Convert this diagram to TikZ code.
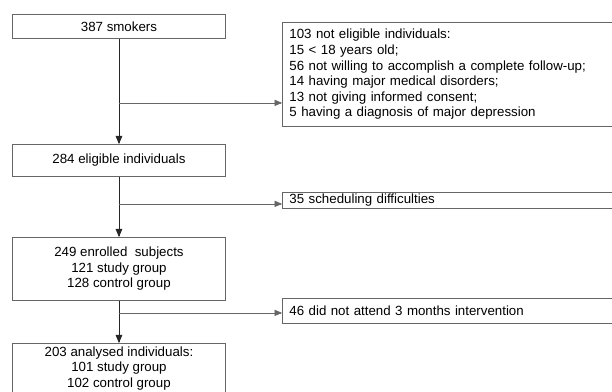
\documentclass[tikz,border=0pt]{standalone}
\usepackage{fontspec}
\setmainfont{Liberation Sans}
\usetikzlibrary{arrows}

\begin{document}
\begin{tikzpicture}[x=1pt,y=-1pt,line cap=butt,line join=miter,>=triangle 45,
    box/.style={draw=black!60,line width=0.9pt,inner xsep=0pt,inner ysep=0pt,
      minimum width=213pt,align=center,anchor=north west,
      font=\fontsize{13.3}{15.6}\selectfont},
    sidebox/.style={draw=black!60,line width=0.9pt,inner xsep=7pt,inner ysep=2pt,
      minimum width=340pt,text width=326pt,align=left,anchor=north west,
      font=\fontsize{13.3}{15.6}\selectfont},
    flow/.style={->,draw=black!85,line width=0.85pt},
    branch/.style={->,draw=black!60,line width=0.7pt}]
      \clip (0,0) rectangle (612,391);

      % Main flow boxes
      \node[box,minimum height=24pt] (smokers) at (12,14) {387 smokers};
      \node[box,minimum height=32pt] (eligible) at (12,144) {284 eligible individuals};
      \node[box,minimum height=63pt] (enrolled) at (12,237) {249 enrolled\ \ subjects\\121 study group\\128 control group};
      \node[box,inner ysep=3pt] (analysed) at (12,343) {203 analysed individuals:\\101 study group\\102 control group};

      % Excluded boxes on the right
      \node[sidebox,minimum height=104pt] (noteligible) at (282,22) {103 not eligible individuals:\\
        15 < 18 years old;\\
        56 not willing to accomplish a complete follow-up;\\
        14 having major medical disorders;\\
        13 not giving informed consent;\\
        5 having a diagnosis of major depression};
      \node[sidebox,minimum height=16pt,inner ysep=0pt] (scheduling) at (282,192) {35 scheduling difficulties};
      \node[sidebox,minimum height=25pt] (notattend) at (282,298) {46 did not attend 3 months intervention};

      % Branch points on the vertical lines
      \path (smokers.south) ++(0,64) coordinate (j1);
      \path (eligible.south) ++(0,27) coordinate (j2);
      \path (enrolled.south) ++(0,12) coordinate (j3);

      % Vertical arrows
      \draw[flow] (smokers) -- (eligible);
      \draw[flow] (eligible) -- (enrolled);
      \draw[flow] (enrolled) -- (analysed);

      % Horizontal arrows
      \draw[branch] (j1) -- (j1 -| noteligible.west);
      \draw[branch] (j2) -- (j2 -| scheduling.west);
      \draw[branch] (j3) -- (j3 -| notattend.west);
\end{tikzpicture}
\end{document}
